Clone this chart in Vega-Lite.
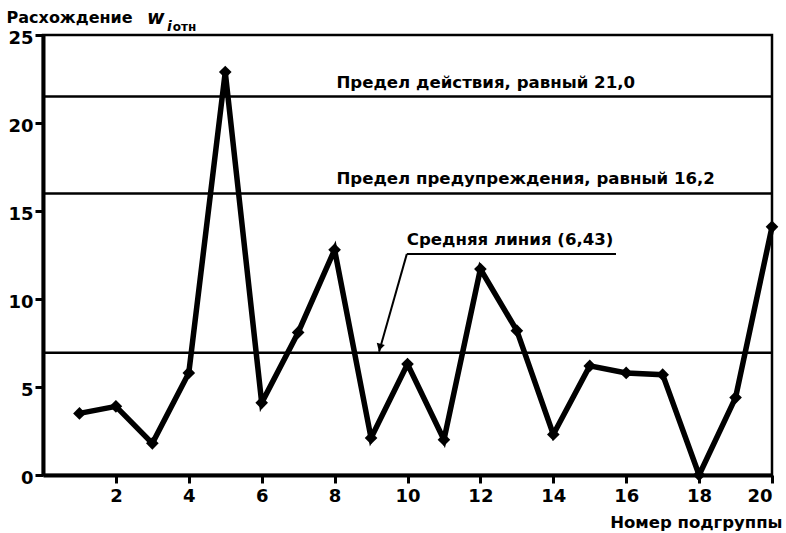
{
  "$schema": "https://vega.github.io/schema/vega-lite/v6.json",
  "width": 729,
  "height": 440,
  "autosize": "none",
  "padding": {"left": 43, "top": 35, "right": 14, "bottom": 58},
  "background": "white",
  "config": {
    "view": {"stroke": "black", "strokeWidth": 2.5},
    "font": "DejaVu Sans",
    "axis": {
      "domainColor": "black", "domainWidth": 4, "tickColor": "black", "tickWidth": 3, "tickSize": 8,
      "labelFont": "DejaVu Sans", "labelFontWeight": "bold", "labelFontSize": 18, "labelColor": "black",
      "grid": false
    }
  },
  "datasets": {
    "series": [
      {"g": 1, "w": 3.5}, {"g": 2, "w": 3.9}, {"g": 3, "w": 1.8}, {"g": 4, "w": 5.8},
      {"g": 5, "w": 22.9}, {"g": 6, "w": 4.1}, {"g": 7, "w": 8.1}, {"g": 8, "w": 12.8},
      {"g": 9, "w": 2.1}, {"g": 10, "w": 6.3}, {"g": 11, "w": 2.0}, {"g": 12, "w": 11.7},
      {"g": 13, "w": 8.2}, {"g": 14, "w": 2.3}, {"g": 15, "w": 6.2}, {"g": 16, "w": 5.8},
      {"g": 17, "w": 5.7}, {"g": 18, "w": 0.0}, {"g": 19, "w": 4.4}, {"g": 20, "w": 14.1}
    ],
    "limits": [{"v": 21.5}, {"v": 16.0}, {"v": 6.95}],
    "labels": [
      {"x": 8.05, "y": 22.3, "t": "Предел действия, равный 21,0"},
      {"x": 8.05, "y": 16.8, "t": "Предел предупреждения, равный 16,2"},
      {"x": 9.98, "y": 13.35, "t": "Средняя линия (6,43)"}
    ],
    "underline": [{"x": 9.98, "x2": 15.72, "y": 12.55}],
    "arrow": [{"x": 9.98, "y": 12.55, "x2": 9.22, "y2": 7.0}],
    "head": [{"x": 9.24, "y": 7.25}],
    "ttl": [{"x": -1.0, "y": 25.95, "t": "Расхождение"}],
    "ttlw": [{"x": 2.85, "y": 25.95, "t": "w"}],
    "ttli": [{"x": 3.4, "y": 25.45, "t": "i"}],
    "ttlo": [{"x": 3.56, "y": 25.45, "t": "отн"}]
  },
  "layer": [
    {
      "data": {"name": "limits"},
      "mark": {"type": "rule", "color": "black", "strokeWidth": 2.5},
      "encoding": {
        "y": {"field": "v", "type": "quantitative", "scale": {"domain": [0, 25], "nice": false},
          "axis": {"values": [0, 5, 10, 15, 20, 25], "title": null, "labelPadding": 2, "labelOffset": 3}}
      }
    },
    {
      "data": {"name": "series"},
      "mark": {"type": "line", "color": "black", "strokeWidth": 5.5, "strokeJoin": "miter",
        "point": {"filled": true, "shape": "diamond", "size": 160, "color": "black"}},
      "encoding": {
        "x": {"field": "g", "type": "quantitative", "scale": {"domain": [0, 20], "nice": false},
          "axis": {"values": [2, 4, 6, 8, 10, 12, 14, 16, 18, 20], "labelPadding": 4,
            "title": "Номер подгруппы", "titleFont": "DejaVu Sans", "titleFontWeight": "bold", "titleFontSize": 16.5,
            "titleColor": "black", "titleAnchor": "end", "titleAlign": "right", "titleBaseline": "middle",
            "titleX": 739, "titleY": 47}},
        "y": {"field": "w", "type": "quantitative"}
      }
    },
    {
      "data": {"name": "labels"},
      "mark": {"type": "text", "align": "left", "baseline": "middle", "font": "DejaVu Sans", "fontSize": 16.6, "fontWeight": "bold", "color": "black"},
      "encoding": {
        "x": {"field": "x", "type": "quantitative"},
        "y": {"field": "y", "type": "quantitative"},
        "text": {"field": "t"}
      }
    },
    {
      "data": {"name": "underline"},
      "mark": {"type": "rule", "color": "black", "strokeWidth": 2},
      "encoding": {
        "x": {"field": "x", "type": "quantitative"},
        "x2": {"field": "x2"},
        "y": {"field": "y", "type": "quantitative"}
      }
    },
    {
      "data": {"name": "arrow"},
      "mark": {"type": "rule", "color": "black", "strokeWidth": 2},
      "encoding": {
        "x": {"field": "x", "type": "quantitative"},
        "y": {"field": "y", "type": "quantitative"},
        "x2": {"field": "x2"},
        "y2": {"field": "y2"}
      }
    },
    {
      "data": {"name": "head"},
      "mark": {"type": "point", "shape": "triangle-down", "filled": true, "color": "black", "size": 70, "angle": 16, "opacity": 1},
      "encoding": {
        "x": {"field": "x", "type": "quantitative"},
        "y": {"field": "y", "type": "quantitative"}
      }
    },
    {
      "data": {"name": "ttl"},
      "mark": {"type": "text", "align": "left", "baseline": "middle", "font": "DejaVu Sans", "fontSize": 16, "fontWeight": "bold", "color": "black"},
      "encoding": {
        "x": {"field": "x", "type": "quantitative"},
        "y": {"field": "y", "type": "quantitative"},
        "text": {"field": "t"}
      }
    },
    {
      "data": {"name": "ttlw"},
      "mark": {"type": "text", "align": "left", "baseline": "middle", "font": "DejaVu Sans", "fontSize": 19, "fontWeight": "bold", "fontStyle": "italic", "color": "black"},
      "encoding": {
        "x": {"field": "x", "type": "quantitative"},
        "y": {"field": "y", "type": "quantitative"},
        "text": {"field": "t"}
      }
    },
    {
      "data": {"name": "ttli"},
      "mark": {"type": "text", "align": "left", "baseline": "middle", "font": "DejaVu Sans", "fontSize": 14, "fontWeight": "bold", "fontStyle": "italic", "color": "black"},
      "encoding": {
        "x": {"field": "x", "type": "quantitative"},
        "y": {"field": "y", "type": "quantitative"},
        "text": {"field": "t"}
      }
    },
    {
      "data": {"name": "ttlo"},
      "mark": {"type": "text", "align": "left", "baseline": "middle", "font": "DejaVu Sans", "fontSize": 12, "fontWeight": "bold", "color": "black"},
      "encoding": {
        "x": {"field": "x", "type": "quantitative"},
        "y": {"field": "y", "type": "quantitative"},
        "text": {"field": "t"}
      }
    }
  ]
}
